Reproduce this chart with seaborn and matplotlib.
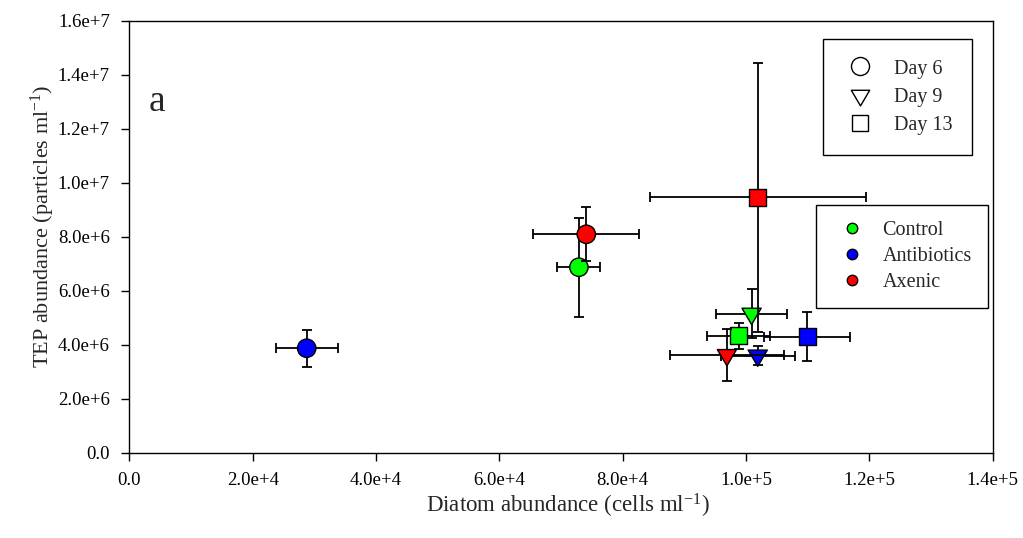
import numpy as np
import pandas as pd
import matplotlib
matplotlib.use("Agg")
import matplotlib.pyplot as plt
from matplotlib.path import Path
from matplotlib.lines import Line2D
import seaborn as sns

# ---- data -------------------------------------------------------------
treatments = ["Control", "Antibiotics", "Axenic"]
days = ["Day 6", "Day 9", "Day 13"]

# diatom abundance (cells/ml) per treatment, ordered Day 6, Day 9, Day 13
diatom_control = [72900, 100900, 98800]
diatom_antibiotics = [28760, 101900, 109900]
diatom_axenic = [74100, 96900, 101900]

diatom_sd_control = [3500, 5800, 5100]
diatom_sd_antibiotics = [5000, 6000, 7000]
diatom_sd_axenic = [8600, 9200, 17500]

# TEP abundance (particles/ml)
tep_control = [6.87e6, 5.15e6, 4.33e6]
tep_antibiotics = [3.87e6, 3.60e6, 4.30e6]
tep_axenic = [8.09e6, 3.62e6, 9.46e6]

tep_sd_control = [1.83e6, 0.91e6, 0.48e6]
tep_sd_antibiotics = [0.68e6, 0.35e6, 0.90e6]
tep_sd_axenic = [1.00e6, 0.96e6, 4.99e6]

x_ticks = [0, 20000, 40000, 60000, 80000, 100000, 120000, 140000]
x_tick_labels = ["0.0", "2.0e+4", "4.0e+4", "6.0e+4", "8.0e+4",
                 "1.0e+5", "1.2e+5", "1.4e+5"]
y_ticks = [0, 2e6, 4e6, 6e6, 8e6, 1e7, 1.2e7, 1.4e7, 1.6e7]
y_tick_labels = ["0.0", "2.0e+6", "4.0e+6", "6.0e+6", "8.0e+6",
                 "1.0e+7", "1.2e+7", "1.4e+7", "1.6e+7"]

# ---- assemble a long table ------------------------------------------
df = pd.DataFrame({
    "treatment": np.repeat(treatments, len(days)),
    "day": days * len(treatments),
    "diatom": diatom_control + diatom_antibiotics + diatom_axenic,
    "diatom_sd": diatom_sd_control + diatom_sd_antibiotics + diatom_sd_axenic,
    "tep": tep_control + tep_antibiotics + tep_axenic,
    "tep_sd": tep_sd_control + tep_sd_antibiotics + tep_sd_axenic,
})

# ---- style -------------------------------------------------------------
sns.set_style("ticks")
plt.rcParams["font.family"] = ["Liberation Serif", "DejaVu Serif"]
plt.rcParams["mathtext.fontset"] = "custom"
plt.rcParams["mathtext.rm"] = "Liberation Serif"
plt.rcParams["mathtext.it"] = "Liberation Serif:italic"

colors = {"Control": "#00ff00", "Antibiotics": "#0000ff", "Axenic": "#ff0000"}

# downward triangle whose centroid sits on the data point
tri_down = Path([(-1.0, 0.567), (1.0, 0.567), (0.0, -1.133), (-1.0, 0.567)],
                [Path.MOVETO, Path.LINETO, Path.LINETO, Path.CLOSEPOLY])
markers = {"Day 6": "o", "Day 9": tri_down, "Day 13": "s"}
sizes = {"Day 6": 175, "Day 9": 245, "Day 13": 150}

fig = plt.figure(figsize=(10.23, 5.38), dpi=100)
ax = fig.add_axes([0.1264, 0.1585, 0.8440, 0.8030])

z = 2
for t in treatments:
    sub = df[df["treatment"] == t]
    ax.errorbar(sub["diatom"], sub["tep"], xerr=sub["diatom_sd"],
                yerr=sub["tep_sd"], fmt="none", ecolor="black",
                elinewidth=1.3, capsize=3.6, capthick=1.3, zorder=z)
    sns.scatterplot(data=sub, x="diatom", y="tep", style="day", size="day",
                    markers=markers, sizes=sizes, style_order=days,
                    size_order=days, color=colors[t], edgecolor="black",
                    linewidth=1.0, legend=False, ax=ax, zorder=z + 1)
    z += 2

ax.set_xlim(0, 140000)
ax.set_ylim(0, 1.6e7)
ax.set_xticks(x_ticks)
ax.set_xticklabels(x_tick_labels)
ax.set_yticks(y_ticks)
ax.set_yticklabels(y_tick_labels)
ax.tick_params(axis="both", direction="out", length=6, width=1.0,
               colors="black", labelsize=13.5, pad=8)
for sp in ax.spines.values():
    sp.set_visible(True)
    sp.set_color("black")
    sp.set_linewidth(1.0)

ax.set_xlabel(r"Diatom abundance (cells ml$^{\mathrm{-1}}$)", fontsize=16.5)
ax.set_ylabel(r"TEP abundance (particles ml$^{\mathrm{-1}}$)", fontsize=16)
ax.xaxis.set_label_coords(0.508, -0.090)
ax.yaxis.set_label_coords(-0.084, 0.525)

ax.text(0.022, 0.791, "a", transform=ax.transAxes, fontsize=27,
        ha="left", va="baseline")

# ---- legends -----------------------------------------------------------
day_handles = [Line2D([], [], linestyle="none", marker=markers[d],
                      markersize={"Day 6": 13, "Day 9": 15, "Day 13": 12}[d],
                      markerfacecolor="white", markeredgecolor="black",
                      markeredgewidth=1.0) for d in days]
leg1 = ax.legend(day_handles, days, loc="upper left",
                 bbox_to_anchor=(822.7 / 1023, 1 - 39.3 / 538),
                 bbox_transform=fig.transFigure, fontsize=14.5,
                 frameon=True, fancybox=False, framealpha=1,
                 edgecolor="black", borderpad=1.0, labelspacing=0.46,
                 handlelength=1.71, handletextpad=0.82, borderaxespad=0)
leg1.get_frame().set_linewidth(1.0)
ax.add_artist(leg1)

trt_handles = [Line2D([], [], linestyle="none", marker="o", markersize=7.5,
                      markerfacecolor=colors[t], markeredgecolor="black",
                      markeredgewidth=1.0) for t in treatments]
leg2 = ax.legend(trt_handles, treatments, loc="upper left",
                 bbox_to_anchor=(815.7 / 1023, 1 - 205 / 538),
                 bbox_transform=fig.transFigure, fontsize=14.5,
                 frameon=True, fancybox=False, framealpha=1,
                 edgecolor="black", borderpad=0.81, labelspacing=0.33,
                 handlelength=1.96, handletextpad=0.55, borderaxespad=0)
leg2.get_frame().set_linewidth(1.0)

fig.savefig("out.png", dpi=100)
